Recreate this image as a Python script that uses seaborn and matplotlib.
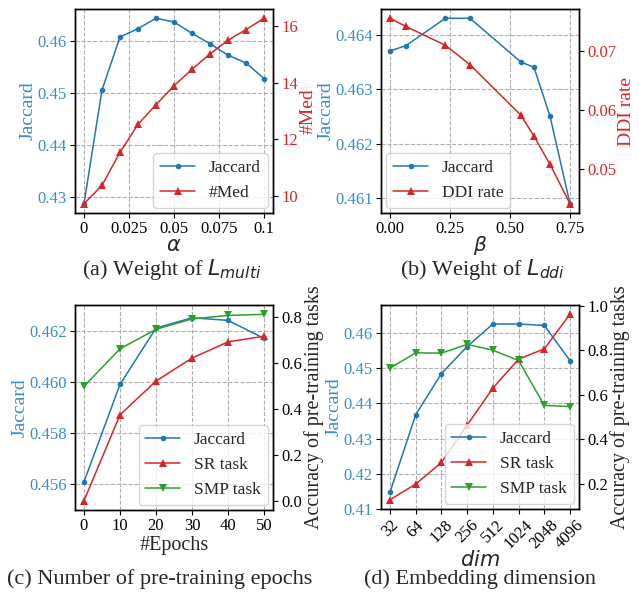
import numpy as np
import seaborn as sns
import matplotlib.pyplot as plt

# data
alpha = [0, 0.01, 0.02, 0.03, 0.04, 0.05, 0.06, 0.07, 0.08, 0.09, 0.1]
jac_alpha = [0.4287, 0.4506, 0.4608, 0.4624, 0.4644, 0.4637, 0.4615, 0.4595, 0.4573, 0.4558, 0.4528]
med_alpha = [9.72, 10.37, 11.54, 12.53, 13.23, 13.90, 14.48, 15.03, 15.51, 15.89, 16.29]

beta = [0, 0.067, 0.231, 0.333, 0.545, 0.6, 0.667, 0.75]
jac_beta = [0.4637, 0.4638, 0.4643, 0.4643, 0.4635, 0.4634, 0.4625, 0.4609]
ddi_beta = [0.0756, 0.0742, 0.0710, 0.0677, 0.0591, 0.0555, 0.0507, 0.0440]

epochs = [0, 10, 20, 30, 40, 50]
jac_epochs = [0.4561, 0.4599, 0.4621, 0.4625, 0.4624, 0.4617]
sr_epochs = [0.0, 0.373, 0.52, 0.62, 0.69, 0.715]
smp_epochs = [0.497, 0.66, 0.745, 0.79, 0.805, 0.81]

dims = ['32', '64', '128', '256', '512', '1024', '2048', '4096']
jac_dims = [0.4148, 0.4368, 0.4485, 0.4562, 0.4626, 0.4626, 0.4622, 0.4522]
sr_dims = [0.13, 0.20, 0.297, 0.464, 0.63, 0.76, 0.806, 0.961]
smp_dims = [0.72, 0.788, 0.787, 0.826, 0.80, 0.754, 0.553, 0.547]

sns.set_style('ticks')
plt.rcParams['font.family'] = ['Liberation Serif', 'DejaVu Sans']
plt.rcParams['mathtext.fontset'] = 'dejavusans'
plt.rcParams['xtick.labelsize'] = 12
plt.rcParams['ytick.labelsize'] = 12
plt.rcParams['axes.edgecolor'] = 'black'
plt.rcParams['axes.linewidth'] = 1.0
plt.rcParams['xtick.color'] = 'black'
plt.rcParams['ytick.color'] = 'black'
plt.rcParams['xtick.major.pad'] = 2.5
plt.rcParams['ytick.major.pad'] = 2.5

BLUE = '#1f77b4'
RED = '#d62728'
GREEN = '#2ca02c'
LBLUE = '#3b8ccc'

W, H = 639, 598
fig = plt.figure(figsize=(W / 100, H / 100), dpi=100)


def box(l, t, r, b):
    return [l / W, 1 - b / H, (r - l) / W, (b - t) / H]


def line(ax, x, y, color, marker, label):
    ms = 4 if marker == 'o' else 5.5
    sns.lineplot(x=x, y=y, ax=ax, color=color, marker=marker, markersize=ms,
                 markeredgewidth=0, linewidth=1.1, label=label, legend=False)


def style_left(ax):
    ax.grid(True, linestyle='--', color='#b0b0b0', linewidth=0.8)
    ax.set_ylabel('Jaccard', color=LBLUE, fontsize=14, labelpad=0.5)
    ax.tick_params(axis='y', labelcolor=LBLUE)


def add_legend(ax, ax2, loc):
    h1, l1 = ax.get_legend_handles_labels()
    h2, l2 = ax2.get_legend_handles_labels()
    ax2.legend(h1 + h2, l1 + l2, loc=loc, fontsize=12.5, edgecolor='#cccccc',
               borderaxespad=0.3)


# (a) weight of L_multi
ax = fig.add_axes(box(75, 9, 273, 213))
ax2 = ax.twinx()
line(ax, alpha, jac_alpha, BLUE, 'o', 'Jaccard')
line(ax2, alpha, med_alpha, RED, '^', '#Med')
style_left(ax)
ax.set_xticks([0, 0.025, 0.05, 0.075, 0.1])
ax.set_xticklabels(['0', '0.025', '0.05', '0.075', '0.1'])
ax.set_yticks([0.43, 0.44, 0.45, 0.46])
ax2.set_yticks([10, 12, 14, 16])
ax2.set_ylabel('#Med', color=RED, fontsize=14, labelpad=1)
ax2.tick_params(axis='y', labelcolor=RED)
ax.set_xlabel(r'$\alpha$', fontsize=15, labelpad=0)
add_legend(ax, ax2, 'lower right')

# (b) weight of L_ddi
ax = fig.add_axes(box(381, 9, 579, 213))
ax2 = ax.twinx()
line(ax, beta, jac_beta, BLUE, 'o', 'Jaccard')
line(ax2, beta, ddi_beta, RED, '^', 'DDI rate')
style_left(ax)
ax.set_xticks([0, 0.25, 0.5, 0.75])
ax.set_xticklabels(['0.00', '0.25', '0.50', '0.75'])
ax.set_yticks([0.461, 0.462, 0.463, 0.464])
ax2.set_yticks([0.05, 0.06, 0.07])
ax2.set_ylabel('DDI rate', color=RED, fontsize=14, labelpad=1)
ax2.tick_params(axis='y', labelcolor=RED)
ax.set_xlabel(r'$\beta$', fontsize=14.5, labelpad=-2.5)
add_legend(ax, ax2, 'lower left')

# (c) number of pre-training epochs
ax = fig.add_axes(box(75, 305, 273, 510))
ax2 = ax.twinx()
line(ax, epochs, jac_epochs, BLUE, 'o', 'Jaccard')
line(ax2, epochs, sr_epochs, RED, '^', 'SR task')
line(ax2, epochs, smp_epochs, GREEN, 'v', 'SMP task')
style_left(ax)
ax.set_ylim(0.455, 0.463)
ax.set_xticks(epochs)
ax.set_yticks([0.456, 0.458, 0.460, 0.462])
ax2.set_yticks([0.0, 0.2, 0.4, 0.6, 0.8])
ax2.set_ylabel('Accuracy of pre-training tasks', fontsize=14.5, labelpad=1)
ax.set_xlabel('#Epochs', fontsize=14.5, labelpad=1)
add_legend(ax, ax2, 'lower right')

# (d) embedding dimension
pos = np.arange(len(dims))
ax = fig.add_axes(box(381, 305, 579, 509))
ax2 = ax.twinx()
line(ax, pos, jac_dims, BLUE, 'o', 'Jaccard')
line(ax2, pos, sr_dims, RED, '^', 'SR task')
line(ax2, pos, smp_dims, GREEN, 'v', 'SMP task')
style_left(ax)
ax.set_ylim(0.41, 0.468)
ax.set_xticks(pos)
ax.set_xticklabels(dims, rotation=45, ha='center', fontsize=12)
ax.set_yticks([0.41, 0.42, 0.43, 0.44, 0.45, 0.46])
ax2.set_yticks([0.2, 0.4, 0.6, 0.8, 1.0])
ax2.set_ylabel('Accuracy of pre-training tasks', fontsize=14.5, labelpad=1)
ax.set_xlabel(r'$dim$', fontsize=15, labelpad=-1)
add_legend(ax, ax2, 'lower right')

# captions
cap = dict(ha='center', va='center', fontsize=16)
fig.text(172 / W, 1 - 270 / H, r'(a) Weight of $L_{multi}$', **cap)
fig.text(483 / W, 1 - 270 / H, r'(b) Weight of $L_{ddi}$', **cap)
fig.text(160 / W, 1 - 579 / H, '(c) Number of pre-training epochs', **cap)
fig.text(480 / W, 1 - 579 / H, '(d) Embedding dimension', **cap)

fig.savefig('out.png', dpi=100)
